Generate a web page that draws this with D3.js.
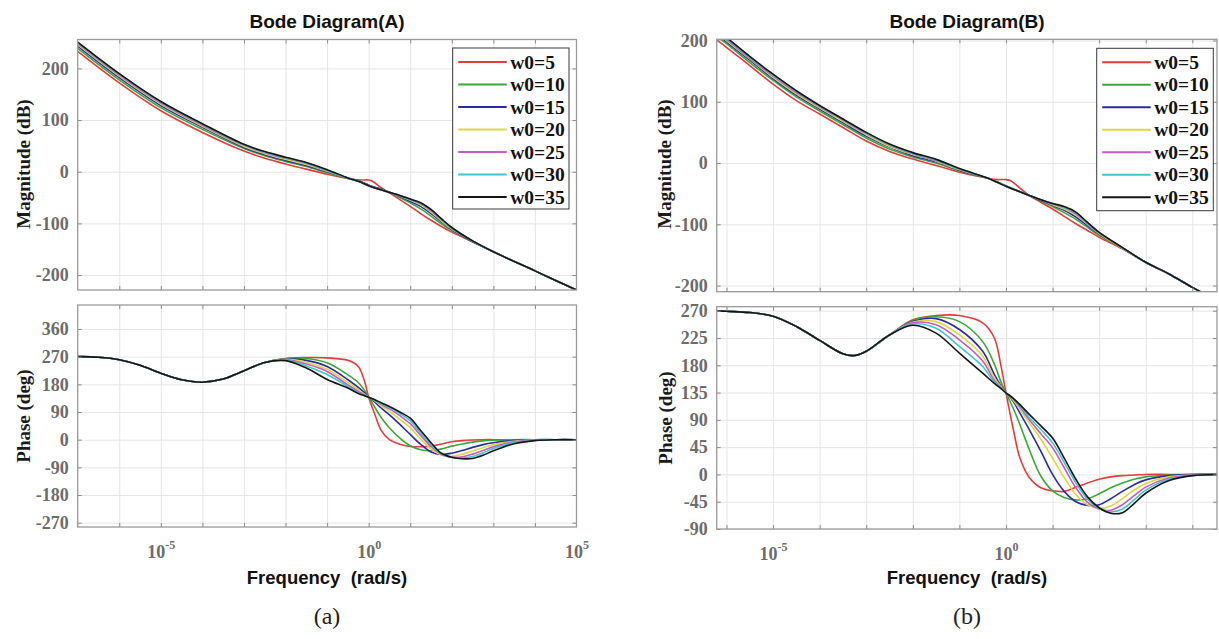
<!DOCTYPE html>
<html><head><meta charset="utf-8">
<script src="https://cdn.jsdelivr.net/npm/d3@7"></script>
<style>
html,body{margin:0;padding:0;background:#fff;}
svg{display:block;}
</style></head><body>
<svg id="chart" width="1219" height="639"></svg>
<script>
// ---------------- data ----------------
const seriesNames = ["w0=5","w0=10","w0=15","w0=20","w0=25","w0=30","w0=35"];
const seriesColors = ["#e53c3c","#3aa83a","#2b2ba8","#dcd83e","#c45cc4","#3ec6d0","#161616"];

// Panel A - magnitude (dB) vs log10(frequency)
const magA_logw = [-7,-6,-5,-4,-3,-2.5,-2,-1.5,-1,-0.5,-0.2,0,0.1,0.3,0.5,0.75,1,1.25,1.5,1.75,2,2.5,3,4,5];
const magA_w5  = [233,172,118,76,40,26,15,5,-5,-13,-16,-16,-19,-31,-41,-54,-67,-81,-94,-106,-117,-136,-155,-192,-229];
const magA_w10 = [239,178,124,82,45,31,20,10,-2,-13,-19,-26,-29,-34,-40,-50,-60,-72,-86,-101,-114,-135,-155,-192,-229];
const magA_w15 = [243,182,128,86,47,33,22,12,0,-12,-19,-26,-29,-34,-40,-48,-57,-67,-81,-97,-112,-135,-155,-192,-229];
const magA_w20 = [246,185,131,88,49,35,24,14,1,-12,-20,-27,-30,-35,-40,-47,-55,-64,-78,-95,-111,-134,-155,-192,-229];
const magA_w25 = [248,187,133,90,51,37,26,16,2,-12,-20,-27,-30,-35,-40,-46,-54,-62,-76,-93,-110,-134,-155,-192,-229];
const magA_w30 = [250,189,135,92,52,38,27,17,3,-12,-20,-27,-30,-35,-40,-46,-53,-61,-74,-92,-109,-134,-155,-192,-229];
const magA_w35 = [251,190,136,93,53,39,28,18,4,-12,-20,-27,-30,-35,-40,-46,-53,-60,-73,-91,-108,-134,-155,-192,-229];

// Panel A - phase (deg)
const phA_logw = [-7,-6.5,-6,-5.5,-5,-4.5,-4,-3.5,-3,-2.5,-2,-1.5,-1,-0.5,-0.25,-0.1,0,0.15,0.3,0.5,0.75,1,1.25,1.5,1.75,2,2.25,2.5,2.75,3,3.5,4,4.5,5];
const phA_w5  = [270,268,260,242,216,195,187,197,224,251,264,267,266,258,238,190,138,82,30,0,-15,-22,-23,-21,-14,-7,-3,-1,0,0,0,0,0,0];
const phA_w10 = [270,268,260,242,216,195,187,197,224,251,263,264,250,211,186,160,138,105,72,38,5,-20,-33,-36,-30,-21,-14,-8,-4,-2,0,0,0,0];
const phA_w15 = [270,268,260,242,216,195,187,197,224,251,262,258,238,195,170,152,138,122,103,81,50,17,-15,-40,-48,-44,-35,-25,-16,-10,-3,0,0,0];
const phA_w20 = [270,268,260,242,216,195,187,197,224,251,261,252,229,186,163,148,138,126,110,92,66,39,2,-30,-50,-54,-47,-37,-26,-16,-5,-1,0,0];
const phA_w25 = [270,268,260,242,216,195,187,197,224,251,260,246,222,178,157,146,138,128,115,100,78,52,14,-22,-48,-57,-56,-47,-35,-23,-7,-1,0,0];
const phA_w30 = [270,268,260,242,216,195,187,197,224,251,259,240,212,173,153,144,138,129,117,105,85,62,22,-16,-46,-58,-60,-55,-43,-29,-9,-2,0,0];
const phA_w35 = [270,268,260,242,216,195,187,197,224,251,257,233,196,168,150,143,138,130,120,108,90,70,30,-10,-44,-57,-62,-61,-51,-36,-13,-3,0,0];

// Panel B - magnitude (dB)
const magB_logw = [-6.25,-6,-5.5,-5,-4.5,-4,-3.5,-3,-2.5,-2,-1.5,-1,-0.4,-0.2,0,0.1,0.3,0.5,0.75,1,1.25,1.5,1.75,2,2.5,3,3.5,4,4.55];
const magB_w5  = [203,189,159,129,102,80,58,36,19,6.5,-4,-15,-24.5,-27,-27,-29,-41,-53,-64,-75,-87,-99,-110,-121,-140,-162,-181,-203,-225];
const magB_w10 = [209,195,164,135,108,85,63,41,23,10,0,-13,-24.5,-30,-37,-40,-47,-53,-62,-71,-81,-92,-105,-118,-139,-162,-181,-203,-225];
const magB_w15 = [213,198,168,138,111,88,66,44,26,12,2,-12,-24.5,-31,-38,-41,-47,-53,-61,-69,-77,-88,-102,-116,-139,-162,-181,-203,-225];
const magB_w20 = [215,200,170,140,113,90,68,46,27,14,3,-11,-24.5,-31,-38,-41,-47,-53,-60,-68,-75,-85,-100,-115,-139,-162,-181,-203,-225];
const magB_w25 = [217,202,171,142,115,92,70,48,29,15,4,-10,-24.5,-31,-38,-41,-47,-53,-60,-67,-73,-83,-99,-114,-138,-162,-181,-203,-225];
const magB_w30 = [219,204,173,144,117,93,71,49,30,16,5,-9.5,-24.5,-31,-38,-41,-47,-53,-60,-66,-72,-81,-98,-113,-138,-162,-181,-203,-225];
const magB_w35 = [220,205,174,145,118,94,72,50,31,17,6,-9,-24.5,-31,-38,-41,-47,-53,-60,-66,-71,-80,-97,-113,-138,-162,-181,-203,-225];

// Panel B - phase (deg)
const phB_logw = [-6.25,-6,-5.5,-5,-4.5,-4,-3.5,-3.25,-3,-2.5,-2,-1.5,-1,-0.5,-0.25,-0.1,0,0.15,0.3,0.5,0.75,1,1.25,1.5,1.75,2,2.25,2.5,2.75,3,3.5,4,4.55];
const phB_w5  = [270,269,267,261,244,221,199,196,203,230,255,262,262,250,225,176,134.5,77,27,-5,-22,-27,-28,-21,-14,-8,-4,-2,-1,0,0,0,0];
const phB_w10 = [270,269,267,261,244,221,199,196,203,230,254,260,252,219,182,151,134.5,110,82,41,-3,-27,-38,-42,-40,-32,-22,-14,-8,-4,-1,0,0];
const phB_w15 = [270,269,267,261,244,221,199,196,203,230,252,257,239,203,165,145,134.5,121,101,74,38,0,-28,-45,-51,-50,-40,-28,-17,-9,-2,0,0];
const phB_w20 = [270,269,267,261,244,221,199,196,203,230,251,252,230,195,159,144,134.5,123,107,85,58,27,-5,-33,-50,-56,-52,-40,-26,-15,-4,-1,0];
const phB_w25 = [270,269,267,261,244,221,199,196,203,230,250,247,222,187,155,143,134.5,125,111,90,67,44,11,-22,-46,-57,-59,-50,-35,-21,-6,-1,0];
const phB_w30 = [270,269,267,261,244,221,199,196,203,230,248,241,211,178,152,142,134.5,126,114,94,74,52,20,-14,-41,-56,-62,-57,-42,-26,-8,-2,0];
const phB_w35 = [270,269,267,261,244,221,199,196,203,230,246,233,200,167,150,141,134.5,126,115,99,80,60,27,-8,-37,-55,-64,-63,-48,-31,-10,-2,0];

// tick values
const magTicks = [-200,-100,0,100,200];
const phaseTicksA = [-270,-180,-90,0,90,180,270,360];
const phaseTicksB = [-90,-45,0,45,90,135,180,225,270];
const freqLabelExpA = [-5,0,5];
const freqLabelExpB = [-5,0];
const gridExpA = [-6,-5,-4,-3,-2,-1,0,1,2,3,4];
const gridExpB = [-6,-5,-4,-3,-2,-1,0,1,2,3,4];

// ---------------- drawing ----------------
const svg = d3.select("#chart");
const serif = "'Liberation Serif','Times New Roman',serif";
const sans = "'Liberation Sans',Arial,sans-serif";
const boxColor = "#9a9a9a", gridColor = "#e6e6e6", tickText = "#6c6c6c";
let clipCount = 0;

function drawAxes(cfg) {
  const {x0,x1,y0,y1,xDom,yDom,yTicks,gridExp,logw,series,labelExp} = cfg;
  const x = d3.scaleLog().domain(xDom).range([x0,x1]);
  const y = d3.scaleLinear().domain(yDom).range([y1,y0]);
  const g = svg.append("g");
  const W = x1-x0, H = y1-y0;
  const gridVals = gridExp.map(e => Math.pow(10,e));

  g.append("rect").attr("x",x0).attr("y",y0).attr("width",W).attr("height",H).attr("fill","#fff");

  // grid
  g.append("g").attr("transform",`translate(0,${y1})`)
    .call(d3.axisBottom(x).tickValues(gridVals).tickSize(-H).tickFormat(""))
    .call(s => { s.select(".domain").remove(); s.selectAll("line").attr("stroke",gridColor).attr("stroke-width",1); });
  g.append("g").attr("transform",`translate(${x0},0)`)
    .call(d3.axisLeft(y).tickValues(yTicks).tickSize(-W).tickFormat(""))
    .call(s => { s.select(".domain").remove(); s.selectAll("line").attr("stroke",gridColor).attr("stroke-width",1); });

  // series
  const cid = "clip"+(clipCount++);
  g.append("clipPath").attr("id",cid).append("rect").attr("x",x0).attr("y",y0).attr("width",W).attr("height",H);
  const line = d3.line().x(d => x(Math.pow(10,d[0]))).y(d => y(d[1])).curve(d3.curveCatmullRom.alpha(0.5));
  const lg = g.append("g").attr("clip-path",`url(#${cid})`);
  series.forEach((vals,i) => {
    lg.append("path").datum(logw.map((e,j)=>[e,vals[j]]))
      .attr("d",line).attr("fill","none").attr("stroke",seriesColors[i])
      .attr("stroke-width",1.6).attr("stroke-linejoin","round");
  });

  // inward ticks on all sides
  const tk = s => { s.select(".domain").remove(); s.selectAll("line").attr("stroke","#8a8a8a").attr("stroke-width",1); };
  g.append("g").attr("transform",`translate(0,${y1})`).call(d3.axisBottom(x).tickValues(gridVals).tickSize(-4).tickFormat("")).call(tk);
  g.append("g").attr("transform",`translate(0,${y0})`).call(d3.axisTop(x).tickValues(gridVals).tickSize(-4).tickFormat("")).call(tk);
  g.append("g").attr("transform",`translate(${x1},0)`).call(d3.axisRight(y).tickValues(yTicks).tickSize(-4).tickFormat("")).call(tk);
  const yl = g.append("g").attr("transform",`translate(${x0},0)`)
    .call(d3.axisLeft(y).tickValues(yTicks).tickSizeInner(-4).tickSizeOuter(0).tickPadding(9).tickFormat(d3.format("d")));
  yl.select(".domain").remove();
  yl.selectAll("line").attr("stroke","#8a8a8a");
  yl.selectAll("text").attr("font-family",serif).attr("font-weight","bold").attr("font-size","18px")
    .attr("fill",tickText).text(d => (d<0 ? "-"+Math.abs(d) : d));

  // box
  g.append("rect").attr("x",x0).attr("y",y0).attr("width",W).attr("height",H)
    .attr("fill","none").attr("stroke",boxColor).attr("stroke-width",1.3);

  // frequency tick labels (10^n)
  if (labelExp) {
    const xl = g.append("g").attr("transform",`translate(0,${y1})`)
      .call(d3.axisBottom(x).tickValues(labelExp.map(e=>Math.pow(10,e))).tickSize(0).tickPadding(0).tickFormat(""));
    xl.select(".domain").remove();
    xl.selectAll(".tick text").attr("y",31).attr("dy",0)
      .attr("font-family",serif).attr("font-weight","bold").attr("font-size","18px").attr("fill",tickText)
      .each(function(d){
        const t = d3.select(this);
        t.append("tspan").text("10");
        t.append("tspan").attr("dy",-9).attr("font-size","12px").text(String(Math.round(Math.log10(d))));
      });
  }
  return {x,y};
}

function drawLegend(bx,by,bw,bh) {
  const g = svg.append("g");
  g.append("rect").attr("x",bx).attr("y",by).attr("width",bw).attr("height",bh)
    .attr("fill","#fff").attr("stroke","#3a3a3a").attr("stroke-width",1);
  seriesNames.forEach((n,i) => {
    const yy = by + 14 + i*22.5;
    g.append("line").attr("x1",bx+5.5).attr("x2",bx+54).attr("y1",yy).attr("y2",yy)
      .attr("stroke",seriesColors[i]).attr("stroke-width",2);
    g.append("text").attr("x",bx+57.5).attr("y",yy+6.5).text(n)
      .attr("font-family",serif).attr("font-weight","bold").attr("font-size","19.5px").attr("fill","#111");
  });
}

function text(x,y,s,opts) {
  const t = svg.append("text").attr("x",x).attr("y",y).text(s).attr("text-anchor","middle");
  Object.entries(opts).forEach(([k,v]) => t.attr(k,v));
  return t;
}
function vtext(cx,cy,s) {
  svg.append("text").attr("transform",`translate(${cx},${cy}) rotate(-90)`).attr("dy","0.35em")
    .attr("text-anchor","middle").text(s)
    .attr("font-family",serif).attr("font-weight","bold").attr("font-size","19px").attr("fill","#1a1a1a");
}

// ----- Panel A -----
drawAxes({x0:77.7,x1:576.5,y0:39.5,y1:290,xDom:[1e-7,1e5],yDom:[-229,256],yTicks:magTicks,gridExp:gridExpA,
  logw:magA_logw,series:[magA_w5,magA_w10,magA_w15,magA_w20,magA_w25,magA_w30,magA_w35],labelExp:null});
drawAxes({x0:77.7,x1:576.5,y0:305,y1:527,xDom:[1e-7,1e5],yDom:[-284,438],yTicks:phaseTicksA,gridExp:gridExpA,
  logw:phA_logw,series:[phA_w5,phA_w10,phA_w15,phA_w20,phA_w25,phA_w30,phA_w35],labelExp:freqLabelExpA});
drawLegend(452.7,48,116.3,161);

// ----- Panel B -----
drawAxes({x0:716.7,x1:1217,y0:39.3,y1:291.7,xDom:[Math.pow(10,-6.21),Math.pow(10,4.53)],yDom:[-210,202],yTicks:magTicks,gridExp:gridExpB,
  logw:magB_logw,series:[magB_w5,magB_w10,magB_w15,magB_w20,magB_w25,magB_w30,magB_w35],labelExp:null});
drawAxes({x0:716.7,x1:1217,y0:306.7,y1:529,xDom:[Math.pow(10,-6.21),Math.pow(10,4.53)],yDom:[-90,276.6],yTicks:phaseTicksB,gridExp:gridExpB,
  logw:phB_logw,series:[phB_w5,phB_w10,phB_w15,phB_w20,phB_w25,phB_w30,phB_w35],labelExp:freqLabelExpB});
drawLegend(1096.7,48.3,116.6,162.4);

// titles & labels
const titleOpts = {"font-family":sans,"font-weight":"bold","font-size":"19px","fill":"#111"};
text(327,28,"Bode Diagram(A)",titleOpts);
text(967,28,"Bode Diagram(B)",titleOpts);
const xlabOpts = {"font-family":sans,"font-weight":"bold","font-size":"18.5px","fill":"#111"};
text(327,584,"Frequency  (rad/s)",xlabOpts).style("white-space","pre");
text(967,584,"Frequency  (rad/s)",xlabOpts).style("white-space","pre");
vtext(23,164,"Magnitude (dB)");
vtext(23,416,"Phase (deg)");
vtext(664,164,"Magnitude (dB)");
vtext(665,418,"Phase (deg)");
const capOpts = {"font-family":serif,"font-size":"24px","fill":"#222"};
text(327,624,"(a)",capOpts);
text(967,624,"(b)",capOpts);
</script>
</body></html>
